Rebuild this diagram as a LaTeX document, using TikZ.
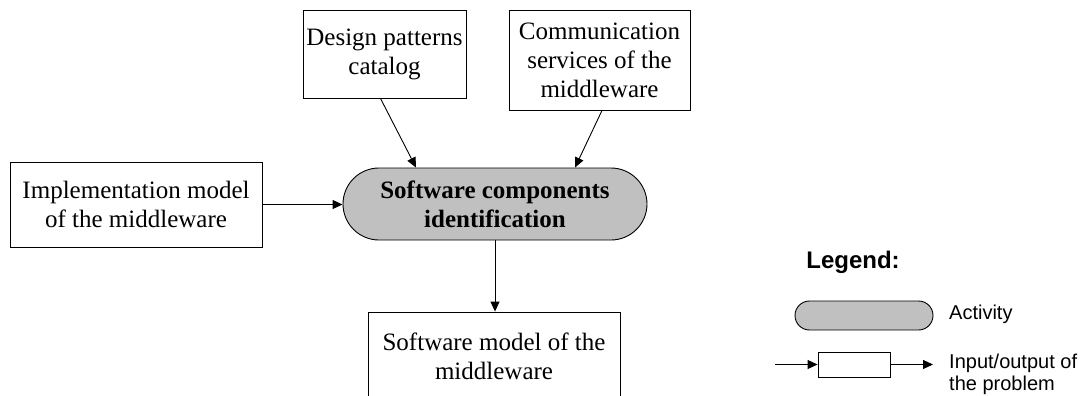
\documentclass[tikz,border=0pt]{standalone}
\usepackage{fontspec}
\setmainfont{Liberation Serif}
\newfontfamily\legendsans{Liberation Sans}
\usetikzlibrary{shapes.misc,arrows.meta}
\definecolor{actgray}{RGB}{192,192,192}
\begin{document}
\begin{tikzpicture}[x=1pt,y=-1pt,
  box/.style={draw,line width=0.9pt,align=center,inner sep=0pt,font=\fontsize{25}{29}\selectfont},
  activity/.style={draw,line width=0.9pt,rounded rectangle,fill=actgray,align=center,inner sep=0pt},
  arr/.style={line width=0.9pt,-{Triangle[length=10pt,width=9pt]}},
  legtext/.style={font=\legendsans\fontsize{20}{22}\selectfont,align=left,anchor=west,inner sep=0pt}]
\useasboundingbox (0,0) rectangle (1084,396);
\node[box,minimum width=163pt,minimum height=88pt] (dp) at (384.5,54) {Design patterns\\catalog};
\node[box,minimum width=181pt,minimum height=100pt] (cs) at (599.5,60) {Communication\\services of the\\middleware};
\node[box,minimum width=252pt,minimum height=85pt] (im) at (136,204.5) {Implementation model\\of the middleware};
\node[activity,minimum width=304pt,minimum height=72pt,font=\bfseries\fontsize{25}{29}\selectfont] (act) at (495,204) {Software components\\identification};
\node[box,minimum width=252pt,minimum height=88pt] (sm) at (494,356) {Software model of the\\middleware};
\draw[arr] ([xshift=-4pt]dp.south) -- ([xshift=-79pt]act.north);
\draw[arr] ([xshift=2.5pt]cs.south) -- ([xshift=80pt]act.north);
\draw[arr] (im.east) -- (im.east -| act.west);
\draw[arr] (act.south) -- (act.south |- sm.north);
% legend
\node[font=\legendsans\bfseries\fontsize{24}{27}\selectfont,inner sep=0pt] (leg) at (853,262) {Legend:};
\node[activity,minimum width=138pt,minimum height=29pt] (lact) at (864,315.5) {};
\node[legtext] (lacttxt) at (949,314) {Activity};
\node[draw,line width=0.9pt,minimum width=72pt,minimum height=25pt,inner sep=0pt] (lbox) at (854,364.5) {};
\coordinate (lin) at (775,364.5);
\coordinate (lout) at (933,364.5);
\draw[arr] (lin) -- (lbox.west);
\draw[arr] (lbox.east) -- (lout);
\node[legtext] (liotxt) at (949,374) {Input/output of\\the problem};
\end{tikzpicture}
\end{document}
